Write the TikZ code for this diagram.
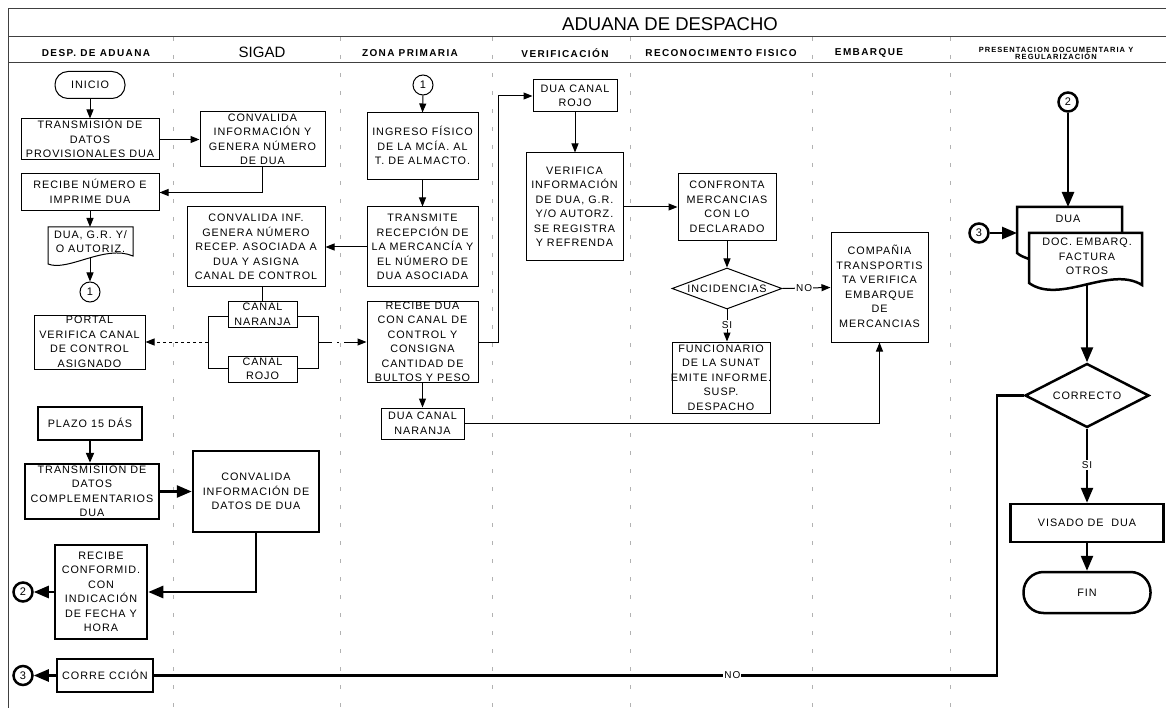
\documentclass[tikz,border=0pt]{standalone}
\usepackage{fontspec}
\setmainfont{Liberation Sans}
\newfontfamily\bxf[LetterSpace=9]{Liberation Sans}
\newfontfamily\hdf[LetterSpace=14]{Liberation Sans}
\usetikzlibrary{arrows.meta,shapes.geometric}
\newcommand\bxfont{\bxf\fontsize{10.8}{14.5}\selectfont}
\newcommand\ft[1]{\makebox[0pt]{\raisebox{-3.4pt}[0pt][0pt]{\begin{tabular}{@{}c@{}}#1\end{tabular}}}}
\begin{document}
\begin{tikzpicture}[x=1pt,y=-1pt,
 bx/.style 2 args={draw,line width=1pt,fill=white,minimum width=#1,minimum height=#2,inner sep=0pt,font=\bxfont},
 tb/.style={line width=2.5pt},
 cir/.style={draw,circle,line width=1pt,minimum size=20pt,inner sep=0pt,fill=white,font=\fontsize{11}{12}\selectfont},
 tcir/.style={cir,line width=2.5pt,minimum size=19pt},
 ar/.style={line width=1pt,-{Triangle[length=9pt,width=7pt]}},
 tar/.style={line width=2.5pt,-{Triangle[length=15pt,width=12pt]}},
 lbl/.style={fill=white,inner sep=1pt,font=\bxf\fontsize{10}{12}\selectfont},
 hd/.style={inner sep=0pt,font=\hdf\bfseries\fontsize{10}{11}\selectfont},
 sepl/.style={draw=gray!60,line width=0.7pt,dash pattern=on 4pt off 14pt},
 frm/.style={draw=black!75,line width=1pt}]
\useasboundingbox (0,0) rectangle (1166,708);
% lane separators
\foreach \xx in {173,340,492,630,812,950} \draw[sepl] (\xx,37) -- (\xx,708);
% frame
\draw[frm] (8,708) -- (8,9) -- (1166,9);
\draw[frm] (8,37) -- (1166,37);
\draw[frm] (8,63) -- (1166,63);
% titles
\node[inner sep=0pt,font=\fontsize{18.5}{20}\selectfont] (title) at (670,24) {ADUANA DE DESPACHO};
\node[hd] (h1) at (96,53) {DESP. DE ADUANA};
\node[inner sep=0pt,font=\fontsize{15}{17}\selectfont] (h2) at (262,52) {SIGAD};
\node[hd] (h3) at (410,53) {ZONA PRIMARIA};
\node[hd] (h4) at (565,53) {VERIFICACIÓN};
\node[hd] (h5) at (721,53) {RECONOCIMENTO FISICO};
\node[hd] (h6) at (869,53) {EMBARQUE};
\node[inner sep=0pt,align=center,font=\hdf\bfseries\fontsize{7.5}{7.5}\selectfont] (h7) at (1056,53.5) {PRESENTACION DOCUMENTARIA Y\\REGULARIZACIÓN};
% bracket behind canal boxes
\draw[line width=1pt] (208,316) rectangle (318,368);
\coordinate (bl) at (208,342);
\coordinate (br) at (318,342);
% document shape lane 1
\draw[line width=1pt,fill=white] (48,227) -- (133,227) -- (133,256) .. controls (105,244) and (68,272) .. (48,264) -- cycle;
\coordinate (doc1top) at (90,227);
\coordinate (doc1bot) at (90,258);
% multi document lane 7
\draw[tb,fill=white] (1017,253) .. controls (1021,256) .. (1029,259) -- (1122,259) -- (1122,207) -- (1017,207) -- cycle;
\draw[tb,fill=white] (1029,233) -- (1142,233) -- (1142,285) .. controls (1110,265) and (1060,305) .. (1029,283) -- cycle;
\coordinate (mdtop) at (1068,207);
\coordinate (mdleft) at (1017,233);
\coordinate (mdbot) at (1087,285);
% nodes lane 1
\node[bx={70pt}{27pt},rounded corners=13pt] (inicio) at (90,85) {\ft{INICIO}};
\node[bx={138pt}{41pt}] (tdp) at (90,139.5) {\ft{TRANSMISIÓN DE\\DATOS\\PROVISIONALES DUA}};
\node[bx={138pt}{37pt}] (recibe) at (90,192.5) {\ft{RECIBE NÚMERO E\\IMPRIME DUA}};
\node[inner sep=0pt,font=\bxfont] (doc1) at (90.5,242) {\ft{DUA, G.R. Y/\\O AUTORIZ.}};
\node[cir] (c1a) at (90,292) {1};
\node[bx={111pt}{54pt}] (portal) at (89.5,342) {\ft{PORTAL\\VERIFICA CANAL\\DE CONTROL\\ASIGNADO}};
% lane 2
\node[bx={125pt}{55pt}] (conv1) at (262.5,139.5) {\ft{CONVALIDA\\INFORMACIÓN Y\\GENERA NÚMERO\\DE DUA}};
\node[bx={138pt}{80pt}] (conv2) at (256,247) {\ft{CONVALIDA INF.\\GENERA NÚMERO\\RECEP. ASOCIADA A\\DUA Y ASIGNA\\CANAL DE CONTROL}};
\node[bx={69pt}{25pt}] (canaln) at (262.5,314.5) {\ft{CANAL\\NARANJA}};
\node[bx={69pt}{26pt}] (canalr) at (262.5,369) {\ft{CANAL\\ROJO}};
% lane 3
\node[cir] (c1b) at (423,85) {1};
\node[bx={111pt}{67pt}] (ingreso) at (422.5,146.5) {\ft{INGRESO FÍSICO\\DE LA MCÍA. AL\\T. DE ALMACTO.}};
\node[bx={111pt}{80pt}] (transmite) at (422.5,247) {\ft{TRANSMITE\\RECEPCIÓN DE\\LA MERCANCÍA Y\\EL NÚMERO DE\\DUA ASOCIADA}};
\node[bx={111pt}{80pt}] (recdua) at (422.5,342) {\ft{RECIBE DUA\\CON CANAL DE\\CONTROL Y\\CONSIGNA\\CANTIDAD DE\\BULTOS Y PESO}};
\node[bx={83pt}{31pt}] (dcn) at (422.5,423.5) {\ft{DUA CANAL\\NARANJA}};
% lane 4
\node[bx={84pt}{32pt}] (dcr) at (575,96) {\ft{DUA CANAL\\ROJO}};
\node[bx={97pt}{108pt}] (verifica) at (574.5,207) {\ft{VERIFICA\\INFORMACIÓN\\DE DUA, G.R.\\Y/O AUTORZ.\\SE REGISTRA\\Y REFRENDA}};
% lane 5
\node[bx={98pt}{67pt}] (confronta) at (727,207) {\ft{CONFRONTA\\MERCANCIAS\\CON LO\\DECLARADO}};
\node[bx={110pt}{41pt},diamond] (incid) at (727,288.5) {\ft{INCIDENCIAS}};
\node[bx={98pt}{71pt}] (func) at (721,377.5) {\ft{FUNCIONARIO\\DE LA SUNAT\\EMITE INFORME.\\SUSP.\\DESPACHO}};
% lane 6
\node[bx={97pt}{109pt}] (comp) at (879.5,287.5) {\ft{COMPAÑIA\\TRANSPORTIS\\TA VERIFICA\\EMBARQUE\\DE\\MERCANCIAS}};
% lane 7
\node[tcir] (c2r) at (1068,102) {2};
\node[tcir] (c3r) at (979,233) {3};
\node[inner sep=0pt,font=\bxfont] (mddua) at (1068,219) {\ft{DUA}};
\node[inner sep=0pt,font=\bxfont] (mdtxt) at (1087,256.5) {\ft{DOC. EMBARQ.\\FACTURA\\OTROS}};
\node[bx={124pt}{64pt},diamond,line width=2.5pt] (correcto) at (1087,395.5) {\ft{CORRECTO}};
\node[bx={153pt}{38pt},line width=2.5pt] (visado) at (1087,523) {\ft{VISADO DE~~DUA}};
\node[bx={127pt}{41pt},line width=2.5pt,rounded corners=20pt] (fin) at (1087,592.5) {\ft{FIN}};
% lower lane 1
\node[bx={104pt}{33pt},line width=2.5pt] (plazo) at (90,423.5) {\ft{PLAZO 15 DÁS}};
\node[bx={134pt}{55pt},line width=2.5pt] (tdc) at (92,491.5) {\ft{TRANSMISIION DE\\DATOS\\COMPLEMENTARIOS\\DUA}};
\node[bx={126pt}{81pt},line width=2.5pt] (conv3) at (256,491.5) {\ft{CONVALIDA\\INFORMACIÓN DE\\DATOS DE DUA}};
\node[bx={92pt}{94pt},line width=2.5pt] (recconf) at (101,592) {\ft{RECIBE\\CONFORMID.\\CON\\INDICACIÓN\\DE FECHA Y\\HORA}};
\node[tcir] (c2l) at (23,592) {2};
\node[bx={96pt}{33pt},line width=2.5pt] (correc) at (105,675.5) {\ft{CORRE CCIÓN}};
\node[tcir] (c3l) at (23,675.5) {3};
% thin connectors
\draw[ar] (inicio.south) -- (tdp.north);
\draw[ar] (tdp.east) -- (conv1.west);
\draw[ar] (conv1.south) |- (recibe.east);
\draw[ar] (recibe.south) -- (doc1top);
\draw[ar] (doc1bot) -- (c1a.north);
\draw[line width=1pt] (canaln.north) -- (canaln.north |- conv2.south);
\draw[line width=1pt,dash pattern=on 3pt off 3pt,-{Triangle[length=9pt,width=7pt]}] (bl) -- (portal.east);
\draw[line width=1pt,dash pattern=on 14pt off 5pt on 2pt off 5pt,-{Triangle[length=9pt,width=7pt]}] (br) -- (recdua.west);
\draw[ar] (c1b.south) -- (ingreso.north);
\draw[ar] (ingreso.south) -- (transmite.north);
\draw[ar] (transmite.west) -- (conv2.east);
\draw[ar] (recdua.south) -- (dcn.north);
\draw[ar] (recdua.east) -- (498,342) |- (dcr.west);
\draw[ar] (dcr.south) -- (dcr.south |- verifica.north);
\draw[ar] (verifica.east) -- (confronta.west);
\draw[ar] (confronta.south) -- (incid.north);
\draw[ar] (incid.south) -- node[lbl,pos=0.48] (si1) {SI} (incid.south |- func.north);
\draw[ar] (incid.east) -- node[lbl,pos=0.45] (no1) {NO} (comp.west);
\draw[ar] (dcn.east) -| (comp.south);
% thick connectors
\draw[line width=2pt,-{Triangle[length=10pt,width=8pt]}] (plazo.south) -- (plazo.south |- tdc.north);
\draw[tar] (tdc.east) -- (conv3.west);
\draw[tar] (conv3.south) |- (recconf.east);
\draw[tar] (recconf.west) -- (c2l.east);
\draw[tar] (correc.west) -- (c3l.east);
\draw[tar] (c2r.south) -- (mdtop);
\draw[tar] (c3r.east) -- (mdleft);
\draw[tar] (mdbot) -- (correcto.north);
\draw[tar] (correcto.south) -- node[lbl,pos=0.49] (si2) {SI} (visado.north);
\draw[tar] (visado.south) -- (fin.north);
\draw[tb] (correcto.west) -- (997,395.5) -- (997,675.5) -- node[lbl,pos=0.314] (no2) {NO} (correc.east);
\end{tikzpicture}
\end{document}
